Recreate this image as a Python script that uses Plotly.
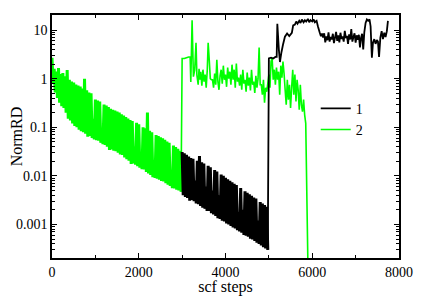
import plotly.graph_objects as go

# ---------------- data ----------------
# Series 2 (green), oscillating SCF phase 0..3000: high points at x = 0,50,...,2950
g_hi = [2.7, 1.6, 1.4, 1.65, 1.25, 1.3, 1.12, 1.5, 0.95, 0.87,
        0.83, 0.76, 0.72, 0.69, 0.63, 1.0, 0.58, 0.52, 0.50, 0.15,
        0.37, 0.355, 0.34, 0.09, 0.295, 0.28, 0.26, 0.24, 0.23, 0.22,
        0.21, 0.20, 0.186, 0.174, 0.162, 0.151, 0.141, 0.135, 0.04, 0.123,
        0.115, 0.03, 0.100, 0.095, 0.20, 0.085, 0.079, 0.02, 0.069, 0.066,
        0.062, 0.059, 0.055, 0.051, 0.048, 0.012, 0.042, 0.039, 0.036, 0.033]
# low points at x = 25,75,...,2975
g_lo = [0.79, 0.52, 0.40, 0.32, 0.27, 0.25, 0.20, 0.15, 0.138, 0.12,
        0.107, 0.10, 0.089, 0.083, 0.079, 0.074, 0.064, 0.066, 0.060, 0.056,
        0.054, 0.053, 0.048, 0.045, 0.043, 0.040, 0.034, 0.035, 0.033, 0.032,
        0.030, 0.0275, 0.027, 0.024, 0.022, 0.0204, 0.0175, 0.018, 0.017, 0.0158,
        0.0148, 0.0138, 0.0135, 0.012, 0.0112, 0.0105, 0.0094, 0.0091, 0.0087, 0.0083,
        0.0079, 0.0077, 0.0071, 0.0066, 0.0062, 0.0056, 0.0055, 0.0052, 0.005, 0.0047]

# Series 2 (green) after the jump at step 3000
g2_x = [3000, 3050, 3100, 3150, 3185, 3200, 3230, 3260, 3290, 3320, 3340, 3370, 3390, 3410,
        3430, 3455, 3480, 3505, 3530, 3555, 3580,
        3600, 3625, 3650, 3675,
        3700, 3725, 3750, 3775, 3800, 3825, 3850, 3875,
        3900, 3925, 3950, 3975, 4000, 4025, 4050, 4075, 4100, 4125, 4150, 4175,
        4200, 4225, 4250, 4275, 4300, 4325,
        4350, 4375, 4400, 4425, 4450, 4475, 4500, 4525, 4550, 4575, 4600, 4625, 4650, 4675,
        4700, 4725, 4750, 4775, 4800,
        4825, 4850, 4875, 4900, 4925, 4950, 4975,
        5000, 5025, 5050, 5075, 5100, 5125, 5150,
        5175, 5200, 5225, 5250, 5275, 5300,
        5325, 5350,
        5375, 5400, 5425, 5450, 5475, 5500, 5525,
        5550, 5575, 5600, 5625, 5650,
        5675, 5700, 5725, 5750, 5775, 5800, 5825,
        5850, 5920]
g2_y = [2.6, 2.6, 2.7, 2.8, 2.8, 0.85, 16, 1.1, 1.5, 5.5, 1.2, 0.75, 1.6, 0.95,
        1.39, 0.72, 1.53, 0.87, 1.21, 0.65, 1.53,
        5.5, 2.46, 1.0, 0.95,
        0.95, 0.65, 1.27, 0.75, 2.46, 0.87, 0.59, 1.15,
        1.53, 0.79, 1.85, 0.95, 1.21, 0.68, 1.69, 1.0, 1.39, 0.75, 1.94, 0.95,
        1.53, 0.65, 2.04, 0.87, 1.05, 0.72,
        1.21, 0.59, 1.53, 0.79, 0.95, 0.54, 1.33, 0.72, 1.05, 0.57, 1.53, 0.75, 0.87, 0.51,
        1.15, 0.65, 1.0, 4.36, 0.75,
        0.75, 0.47, 0.95, 0.32, 0.65, 0.54, 0.79,
        1.21, 0.65, 2.24, 2.7, 0.95, 1.53, 0.75,
        1.69, 0.95, 1.39, 0.47, 1.85, 1.05,
        2.24, 1.27,
        0.59, 0.29, 0.95, 0.37, 0.75, 0.25, 0.65,
        1.53, 0.47, 1.21, 0.34, 0.95,
        0.59, 0.23, 0.75, 0.29, 0.21, 0.37, 0.18,
        0.12, 1e-5]

# Series 1 (black), oscillating phase 3000..5000: high points at x = 3000,3050,...,4950
b_hi = [0.031, 0.029, 0.027, 0.025, 0.0234, 0.0224, 0.008, 0.0204, 0.0257, 0.019,
        0.018, 0.006, 0.0162, 0.0151, 0.005, 0.0132, 0.0123, 0.004, 0.0107, 0.010,
        0.0091, 0.0085, 0.0079, 0.0074, 0.0069, 0.0065, 0.0018, 0.0056, 0.002, 0.0048,
        0.0045, 0.0042, 0.0039, 0.0036, 0.0034, 0.0012, 0.0029, 0.0027, 0.0025, 0.0023]
# low points at x = 3025,3075,...,4975
b_lo = [0.0040, 0.0037, 0.0035, 0.0031, 0.0032, 0.0030, 0.0027, 0.0026, 0.0024, 0.0022,
        0.0021, 0.0019, 0.0019, 0.0017, 0.0016, 0.0015, 0.00135, 0.0013, 0.0012, 0.00115,
        0.00105, 0.0010, 0.00093, 0.00087, 0.00083, 0.00076, 0.00072, 0.00068, 0.00061, 0.00059,
        0.00056, 0.00051, 0.00049, 0.00046, 0.00042, 0.0004, 0.00037, 0.00034, 0.00032, 0.0003]

# Series 1 (black) after the jump at step 5000
b2_x = [5000, 5050, 5100, 5150, 5180, 5195, 5230, 5255, 5290, 5325, 5370, 5420, 5470, 5530,
        5560, 5600, 5630, 5660, 5700, 5730, 5760, 5800, 5830, 5860, 5900, 5930, 5960, 6000,
        6030, 6060, 6100, 6130, 6170, 6200, 6225,
        6250, 6275, 6300, 6325, 6350, 6375, 6400, 6425, 6450, 6475, 6500, 6525, 6550, 6575,
        6600, 6625, 6650, 6675, 6700, 6725, 6750, 6775, 6800, 6825, 6850, 6875, 6900, 6925,
        6950, 6975, 7000, 7025, 7050, 7075, 7100, 7125, 7150, 7175, 7200,
        7230, 7260, 7290, 7320, 7345, 7375, 7400, 7430, 7460, 7490, 7515, 7540, 7570, 7600,
        7630, 7660, 7690, 7720, 7745]
b2_y = [2.6, 2.7, 2.6, 2.8, 2.8, 13.5, 4.0, 2.2, 3.5, 5.0, 7.3, 8.5, 7.5, 8.8,
        12.5, 13.0, 15.0, 13.5, 15.5, 14.0, 16.5, 14.5, 16.0, 15.0, 17.0, 14.5, 16.0, 15.0,
        16.5, 14.5, 15.5, 12.0, 9.0, 7.5, 8.5,
        7.0, 8.6, 5.6, 7.4, 6.2, 9.0, 5.8, 7.2, 6.4, 8.4, 5.4, 7.0, 9.2, 6.0,
        7.8, 5.6, 8.8, 6.6, 7.4, 5.8, 9.6, 6.8, 7.6, 5.2, 8.2, 6.4, 10.5, 5.8,
        7.2, 8.6, 5.5, 7.8, 6.3, 8.0, 4.4, 7.0, 8.4, 4.0, 9.0,
        14.0, 16.5, 15.5, 16.5, 12.0, 2.7, 5.5, 6.5, 5.2, 6.2, 5.8, 2.8, 7.0, 9.5,
        6.5, 8.8, 7.2, 9.5, 15.5]

x_tickvals = [0, 2000, 4000, 6000, 8000]
y_tickvals = [0.001, 0.01, 0.1, 1, 10]
y_ticktext = ["0.001", "0.01", "0.1", "1", "10"]


def interleave(x0, step, hi, lo):
    xs, ys = [], []
    for i, (h, l) in enumerate(zip(hi, lo)):
        xs += [x0 + i * step, x0 + i * step + step // 2]
        ys += [h, l]
    return xs, ys


gbx, gby = interleave(0, 50, g_hi, g_lo)
bbx, bby = interleave(3000, 50, b_hi, b_lo)
# tails start from the last point of the oscillating phase so the jump is drawn
gtx, gty = gbx[-1:] + g2_x, gby[-1:] + g2_y
btx, bty = bbx[-1:] + b2_x, bby[-1:] + b2_y

GREEN = "#00ff00"
fig = go.Figure()
fig.add_trace(go.Scatter(x=gbx, y=gby, mode="lines", legendgroup="2", showlegend=False,
                         line=dict(color=GREEN, width=3.0, simplify=False)))
fig.add_trace(go.Scatter(x=gtx, y=gty, mode="lines", name="2", legendgroup="2", legendrank=2,
                         line=dict(color=GREEN, width=1.6, simplify=False)))
fig.add_trace(go.Scatter(x=bbx, y=bby, mode="lines", legendgroup="1", showlegend=False,
                         line=dict(color="black", width=3.0, simplify=False)))
fig.add_trace(go.Scatter(x=btx, y=bty, mode="lines", name="1", legendgroup="1", legendrank=1,
                         line=dict(color="black", width=1.8, simplify=False)))

minor_y = [k * 10 ** e for e in range(-4, 2) for k in range(2, 10)]
minor_y = [v for v in minor_y if 2e-4 <= v <= 20]

# the page body adds an 8 px offset, so the figure is 8 px smaller and margins shifted
fig.update_layout(
    width=439, height=288,
    margin=dict(l=44, r=48, t=7, b=38),
    paper_bgcolor="white", plot_bgcolor="white",
    font=dict(family="Liberation Serif", size=14, color="black"),
    showlegend=True,
    legend=dict(x=0.76, y=0.68, xanchor="left", yanchor="top",
                bgcolor="rgba(0,0,0,0)", font=dict(size=14), itemwidth=30,
                tracegroupgap=0),
    xaxis=dict(range=[0, 8000], tickmode="array", tickvals=x_tickvals,
               ticks="inside", ticklen=5, tickwidth=1, tickcolor="black",
               minor=dict(dtick=1000, tick0=0, ticks="inside", ticklen=3, tickcolor="black"),
               showline=True, linecolor="black", linewidth=1.5, mirror="ticks",
               showgrid=False, zeroline=False, automargin=False,
               title=dict(text="scf steps", font=dict(size=16), standoff=1)),
    yaxis=dict(type="log", range=[-3.69, 1.31], tickmode="array",
               tickvals=y_tickvals, ticktext=y_ticktext,
               ticks="inside", ticklen=5, tickwidth=1, tickcolor="black",
               minor=dict(tickmode="array", tickvals=minor_y, ticks="inside", ticklen=3,
                          tickcolor="black"),
               showline=True, linecolor="black", linewidth=1.5, mirror="ticks",
               showgrid=False, zeroline=False, automargin=False,
               title=dict(text="NormRD", font=dict(size=16), standoff=5)),
)

fig.write_html("out.html")
